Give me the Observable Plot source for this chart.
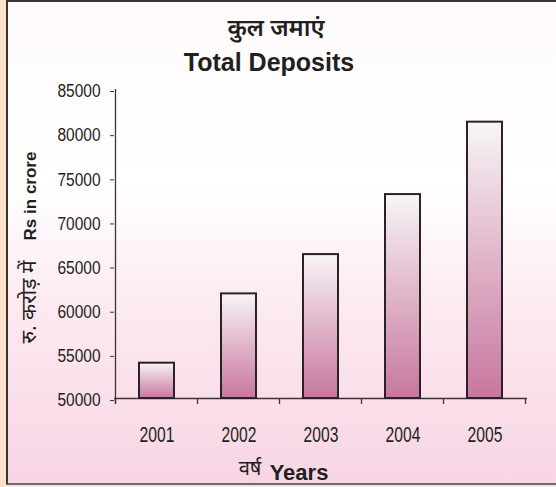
<!DOCTYPE html>
<html>
<head>
<meta charset="utf-8">
<script src="https://cdn.jsdelivr.net/npm/d3@7"></script>
<script src="https://cdn.jsdelivr.net/npm/@observablehq/plot@0.6"></script>
<style>
  html, body { margin: 0; padding: 0; }
  #wrap { position: relative; width: 556px; height: 487px; overflow: hidden; background: #ece8ea; }
  #strip { position: absolute; left: 0; top: 0; width: 6px; height: 487px; background: #fde0cb; }
  #panel { position: absolute; left: 6px; top: 0; width: 560px; height: 485px;
    border-left: 2px solid #3a3437; border-top: 2px solid #3a3437; border-bottom: 2px solid #6e686b;
    box-sizing: border-box;
    background: linear-gradient(to bottom, #fefafb 0%, #ffffff 38%, #fcebf1 62%, #fadfea 82%, #f8d5e4 100%); }
  #chart { position: absolute; left: 0; top: 0; }
</style>
</head>
<body>
<div id="wrap"><div id="strip"></div><div id="panel"></div><div id="chart"></div></div>
<script>
const years = ["2001", "2002", "2003", "2004", "2005"];
const deposits = [54000, 61850, 66300, 73100, 81300];
const yTicks = [50000, 55000, 60000, 65000, 70000, 75000, 80000, 85000];
const titleHindi = "कुल जमाएं";
const titleEnglish = "Total Deposits";
const yLabelHindi = "रु. करोड़ में";
const yLabelEnglish = "Rs in crore";
const xLabelHindi = "वर्ष";
const xLabelEnglish = "Years";

const data = years.map((year, i) => ({year, value: deposits[i]}));

const sans = "'Liberation Sans', Arial, Helvetica, sans-serif";
const deva = "'Noto Sans Devanagari', 'Lohit Devanagari', 'Mangal', 'Liberation Sans', sans-serif";

const defs = () => {
  const d = d3.create("svg:defs");
  const g = d.append("linearGradient").attr("id", "barGrad")
    .attr("x1", 0).attr("y1", 0).attr("x2", 0).attr("y2", 1);
  g.append("stop").attr("offset", "0%").attr("stop-color", "#f8f5f7");
  g.append("stop").attr("offset", "50%").attr("stop-color", "#e0b4c9");
  g.append("stop").attr("offset", "100%").attr("stop-color", "#c8779e");
  return d.node();
};

const label = (text, frameAnchor, dx, dy, fontSize, fontWeight, fontFamily, rotate = 0, extra = {}) =>
  Plot.text([text], {text: d => d, frameAnchor, dx, dy, rotate, fontSize, fontWeight, fontFamily,
    textAnchor: "middle", lineAnchor: "middle", fill: "#231f20", ...extra});

const chart = Plot.plot({
  width: 556,
  height: 487,
  marginLeft: 114,
  marginRight: 29,
  marginTop: 89,
  marginBottom: 89,
  style: {background: "transparent", overflow: "visible", color: "#231f20"},
  x: {domain: years, paddingInner: 0.575, paddingOuter: 0.2875},
  y: {domain: [yTicks[0], yTicks[yTicks.length - 1]]},
  marks: [
    defs,
    Plot.axisX({tickSize: 0, tickPadding: 28, fontSize: 22, fontFamily: sans, label: null}),
    Plot.axisY({ticks: yTicks, tickSize: 4, tickPadding: 10, fontSize: 18, fontFamily: sans,
      label: null, tickFormat: d => String(d), dy: 2, stroke: "#3a3437"}),
    Plot.ruleY([yTicks[0]], {stroke: "#3a3437", strokeWidth: 1.3}),
    Plot.barY(data, {x: "year", y1: yTicks[0], y2: "value", fill: "url(#barGrad)",
      stroke: "#2a2226", strokeWidth: 2}),
    label(titleHindi, "top", -45, -61, 24, 600, deva),
    label(titleEnglish, "top", -52, -27, 25, "bold", sans),
    label(yLabelEnglish, "left", -84, -48, 17, "bold", sans, -90, {letterSpacing: "1.2px"}),
    label(yLabelHindi, "left", -85, 58, 21, "normal", deva, -90),
    label(xLabelEnglish, "bottom", -22, 74, 22, "bold", sans),
    label(xLabelHindi, "bottom", -71, 70, 20, "normal", deva)
  ]
});

document.getElementById("chart").appendChild(chart);

const svg = d3.select(chart);
// condense the tick labels (narrow face of the original)
const condense = (sel, k) => sel.each(function () {
  const len = this.getComputedTextLength();
  d3.select(this).attr("textLength", len * k).attr("lengthAdjust", "spacingAndGlyphs");
});
condense(svg.selectAll('g[aria-label="x-axis tick label"] text'), 0.71);
condense(svg.selectAll('g[aria-label="y-axis tick label"] text'), 0.86);

// axis line and category boundary ticks from the library's scales
const xs = chart.scale("x"), ys = chart.scale("y");
const gap = (xs.step - xs.bandwidth) / 2;
const bounds = years.map(d => xs.apply(d) - gap);
bounds.push(bounds[bounds.length - 1] + xs.step);
const base = ys.apply(yTicks[0]);
const g = svg.append("g").attr("stroke", "#3a3437").attr("stroke-width", 1.3);
g.append("line").attr("x1", bounds[0]).attr("x2", bounds[0])
  .attr("y1", ys.apply(yTicks[yTicks.length - 1])).attr("y2", base + 6);
g.selectAll("line.b").data(bounds).join("line").attr("class", "b")
  .attr("x1", d => d).attr("x2", d => d).attr("y1", base).attr("y2", base + 6);
</script>
</body>
</html>
